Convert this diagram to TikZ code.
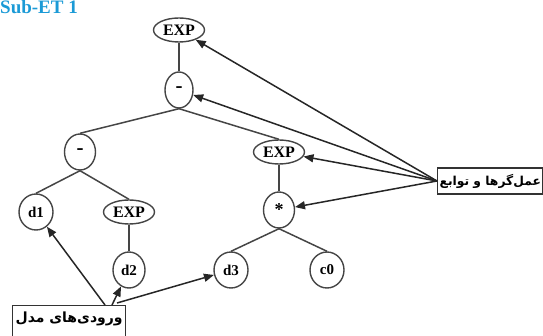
\documentclass[tikz,border=0pt]{standalone}
\usepackage{fontspec}
\setmainfont{Liberation Serif}
\newfontfamily\arabicfont[Script=Arabic]{DejaVu Sans}
\TeXXeTstate=1
\usetikzlibrary{shapes.geometric,arrows.meta}
\definecolor{titleblue}{HTML}{1B9AD6}
\definecolor{edgegray}{HTML}{454545}
\begin{document}
\begin{tikzpicture}[x=1pt,y=-1pt,
  tnode/.style={ellipse,draw=edgegray,line width=1.4pt,inner sep=0pt,font=\bfseries\fontsize{15}{15}\selectfont},
  opnode/.style={tnode,minimum width=31pt,minimum height=36pt},
  minusnode/.style={opnode,font=\bfseries\fontsize{21}{21}\selectfont},
  expnode/.style={tnode,minimum width=51pt,minimum height=24pt,font=\bfseries\fontsize{16}{16}\selectfont},
  tedge/.style={draw=edgegray,line width=1.5pt},
  pointer/.style={draw=black!85,line width=1.5pt,-{Triangle[length=10pt,width=8pt]}},
  labelbox/.style={draw=black!80,line width=1.2pt,inner sep=3pt,font=\arabicfont\bfseries\fontsize{14}{14}\selectfont}]
\useasboundingbox (0,0) rectangle (543,336);
\node[anchor=base west,text=titleblue,font=\bfseries\fontsize{19}{19}\selectfont,inner sep=0pt] (title) at (0,14) {Sub-ET 1};
% tree
\node[expnode] (e1) at (179,30) {EXP};
\node[minusnode,minimum width=28pt] (m1) at (179,90) {-};
\node[minusnode] (m2) at (80,152) {-};
\node[expnode] (e2) at (279,152) {EXP};
\node[opnode,minimum width=34pt] (d1) at (36,212) {d1};
\node[expnode] (e3) at (129,212) {EXP};
\node[opnode,font=\bfseries\fontsize{18}{18}\selectfont] (st) at (279,210) {*};
\node[opnode,minimum width=32pt] (d2) at (129,270) {d2};
\node[opnode,minimum width=34pt] (d3) at (231,270) {d3};
\node[opnode,minimum width=34pt] (c0) at (327,270) {c0};
\draw[tedge] (e1.south) -- (m1.north);
\draw[tedge] (m1.south) -- (m2.north);
\draw[tedge] (m1.south) -- (e2.north);
\draw[tedge] (m2.south) -- (d1.north);
\draw[tedge] (m2.south) -- (e3.north);
\draw[tedge] (e3.south) -- (d2.north);
\draw[tedge] (e2.south) -- (st.north);
\draw[tedge] (st.south) -- (d3.north);
\draw[tedge] (st.south) -- (c0.north);
% label boxes
\node[labelbox,anchor=west,minimum height=26pt,inner xsep=2pt,font=\arabicfont\bfseries\fontsize{12.3}{12.3}\selectfont] (ops) at (437,181) {\beginR عمل‌گرها و توابع\endR};
\node[labelbox,anchor=north west,minimum height=42pt,minimum width=103pt,text depth=18pt] (ins) at (12,305) {\beginR ورودی‌های مدل\endR};
\coordinate (os) at (437,181);
\coordinate (ia) at (105,305);
\coordinate (ib) at (112,305);
\coordinate (ic) at (117,303);
\draw[pointer] (os) -- (e1);
\draw[pointer] (os) -- (m1);
\draw[pointer] (os) -- (e2);
\draw[pointer] (os) -- (st);
\draw[pointer] (ia) -- (d1);
\draw[pointer] (ib) -- (d2);
\draw[pointer] (ic) -- (d3);
\end{tikzpicture}
\end{document}
